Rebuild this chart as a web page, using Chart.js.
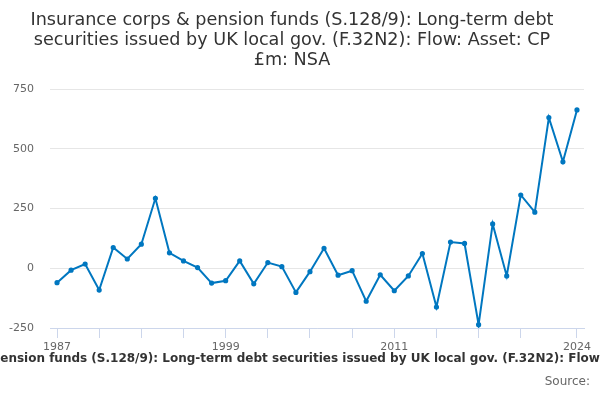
<!DOCTYPE html>
<html>
<head>
<meta charset="utf-8">
<script src="https://cdn.jsdelivr.net/npm/chart.js@4/dist/chart.umd.min.js"></script>
<style>
body { margin: 0; background: #fff; }
#wrap { position: relative; width: 600px; height: 400px; overflow: hidden; font-family: "DejaVu Sans", sans-serif; }
#caption { position: absolute; left: 50%; top: 351px; transform: translateX(-50%); white-space: nowrap; font-weight: bold; font-size: 12px; color: #333; }
#source { position: absolute; right: 10px; top: 374px; font-size: 12px; color: #666; }
</style>
</head>
<body>
<div id="wrap">
<canvas id="chart" width="600" height="400"></canvas>
<div id="caption">Insurance corps &amp; pension funds (S.128/9): Long-term debt securities issued by UK local gov. (F.32N2): Flow: Asset: CP £m: NSA</div>
<div id="source">Source:</div>
</div>
<script>
// years on the x axis
const years = [];
for (let y = 1987; y <= 2024; y++) years.push(String(y));

// £m flow
const values = [-60, -8, 18, -91, 87, 39, 101, 293, 65, 31, 3, -62, -52, 31, -65, 24, 7, -101,
  -14, 84, -29, -10, -138, -27, -94, -32, 62, -162, 110, 104, -236, 186, -32, 307, 235, 631, 446, 663];

const labelYears = ['1987', '1999', '2011', '2024'];
const yTicks = [-250, 0, 250, 500, 750];

const titleLines = ['Insurance corps & pension funds (S.128/9): Long-term debt',
  'securities issued by UK local gov. (F.32N2): Flow: Asset: CP', '£m: NSA'];

const lineColor = '#0077c0';

const ctx = document.getElementById('chart').getContext('2d');
new Chart(ctx, {
  type: 'line',
  data: {
    labels: years,
    datasets: [{
      data: values,
      borderColor: lineColor,
      backgroundColor: lineColor,
      borderWidth: 2,
      pointRadius: 1.6,
      pointHoverRadius: 3,
      tension: 0
    }]
  },
  options: {
    responsive: false,
    animation: false,
    layout: { padding: { left: 0, right: 16, top: 0, bottom: 47 } },
    plugins: {
      legend: { display: false },
      tooltip: { enabled: false },
      title: {
        display: true,
        text: titleLines,
        color: '#333',
        font: { family: 'DejaVu Sans', size: 17.6, weight: 'normal', lineHeight: 1.14 },
        padding: { top: 10, bottom: 19 }
      }
    },
    scales: {
      x: {
        offset: true,
        grid: {
          offset: false,
          drawOnChartArea: false,
          tickLength: 10,
          tickColor: (c) => ((c.index % 3 === 0 && c.index !== 36) || c.index === 37) ? '#ccd6eb' : 'rgba(0,0,0,0)'
        },
        border: { color: '#ccd6eb' },
        ticks: {
          autoSkip: false,
          maxRotation: 0,
          padding: 3,
          color: '#666',
          font: { family: 'DejaVu Sans', size: 11 },
          callback: function(v) {
            const l = this.getLabelForValue(v);
            return labelYears.includes(l) ? l : '';
          }
        },
        afterFit: (s) => { s.height = 25; }
      },
      y: {
        min: yTicks[0],
        max: yTicks[yTicks.length - 1],
        afterBuildTicks: (s) => { s.ticks = yTicks.map(v => ({ value: v })); },
        grid: { color: '#e6e6e6', drawTicks: false },
        border: { display: false },
        ticks: {
          padding: 16,
          color: '#666',
          font: { family: 'DejaVu Sans', size: 11 }
        },
        afterFit: (s) => { s.width = 50; }
      }
    }
  }
});
</script>
</body>
</html>
